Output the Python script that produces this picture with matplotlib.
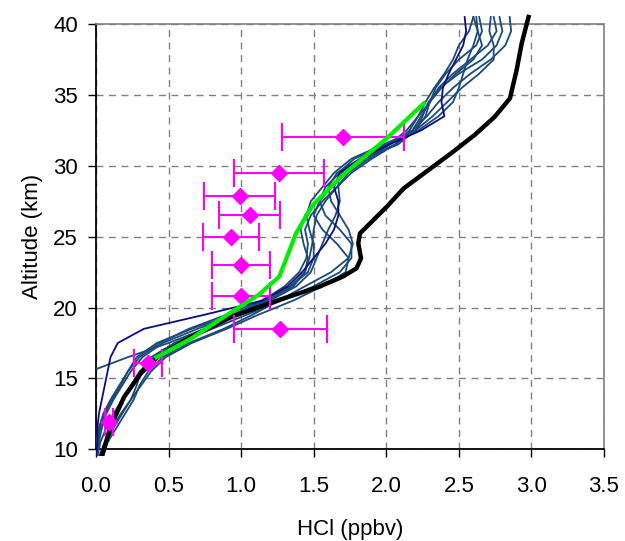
import numpy as np
import matplotlib
matplotlib.use("Agg")
import matplotlib.pyplot as plt
from matplotlib.transforms import Bbox, TransformedBbox

plt.rcParams['font.family'] = ['Liberation Sans', 'DejaVu Sans']

# altitude grid (km) shared by the individual profiles
alt = [9.5, 10.5, 11.5, 12.5, 13.5, 14.5, 15.5, 16.5, 17.5, 18.5, 19.5,
       20.5, 21.5, 22.5, 23.5, 24.5, 25.5, 26.5, 27.5, 28.5, 29.5, 30.5,
       31.5, 32.5, 33.5, 34.5, 35.5, 36.5, 37.5, 38.5, 39.5, 40.5]

nan = np.nan
# individual HCl profiles (ppbv)
prof_navy = [0.00, 0.01, 0.01, 0.02, 0.04, 0.06, 0.08, 0.10, 0.15, 0.33, 0.75,
             1.15, 1.32, 1.42, 1.50, 1.58, 1.64, 1.67, 1.67, 1.64, 1.68, 1.82,
             2.02, 2.24, 2.40, 2.38, 2.39, 2.43, 2.48, 2.53, 2.55, 2.54]
profiles = [
    [nan, nan, nan, nan, nan, nan, -0.04, 0.22, 0.50, 0.75, 0.95,
     1.15, 1.30, 1.40, 1.45, 1.46, 1.44, 1.48, 1.56, 1.66, 1.76, 1.90,
     2.06, 2.18, 2.24, 2.30, 2.36, 2.46, 2.58, 2.70, 2.76, 2.74],
    [0.04, 0.08, 0.14, 0.20, 0.26, 0.30, 0.36, 0.46, 0.64, 0.88, 1.08,
     1.26, 1.44, 1.62, 1.74, 1.77, 1.74, 1.68, 1.62, 1.60, 1.66, 1.82,
     2.02, 2.18, 2.28, 2.36, 2.46, 2.58, 2.72, 2.82, 2.86, 2.85],
    [-0.01, 0.00, 0.02, 0.05, 0.10, 0.16, 0.22, 0.30, 0.44, 0.64, 0.90,
     1.14, 1.34, 1.46, 1.50, 1.50, 1.47, 1.45, 1.48, 1.56, 1.64, 1.76,
     1.98, 2.20, 2.32, 2.42, 2.52, 2.64, 2.74, 2.74, 2.71, 2.72],
    [0.01, 0.03, 0.07, 0.12, 0.18, 0.24, 0.30, 0.40, 0.56, 0.80, 1.04,
     1.28, 1.50, 1.68, 1.76, 1.76, 1.68, 1.58, 1.54, 1.58, 1.68, 1.84,
     2.06, 2.20, 2.27, 2.30, 2.34, 2.41, 2.50, 2.62, 2.66, 2.64],
    [0.00, 0.02, 0.04, 0.07, 0.12, 0.18, 0.24, 0.32, 0.46, 0.70, 0.96,
     1.20, 1.38, 1.48, 1.52, 1.56, 1.60, 1.65, 1.68, 1.67, 1.67, 1.78,
     2.00, 2.22, 2.36, 2.46, 2.50, 2.53, 2.56, 2.60, 2.63, 2.62],
    [0.05, 0.08, 0.12, 0.18, 0.24, 0.28, 0.31, 0.38, 0.54, 0.76, 0.98,
     1.18, 1.34, 1.44, 1.46, 1.43, 1.41, 1.44, 1.52, 1.62, 1.72, 1.86,
     2.02, 2.14, 2.22, 2.30, 2.38, 2.48, 2.60, 2.66, 2.63, 2.60],
    [0.02, 0.06, 0.11, 0.17, 0.24, 0.31, 0.38, 0.48, 0.66, 0.90, 1.12,
     1.36, 1.56, 1.72, 1.74, 1.66, 1.56, 1.50, 1.54, 1.62, 1.70, 1.84,
     2.08, 2.20, 2.25, 2.29, 2.37, 2.50, 2.66, 2.76, 2.80, 2.78],
    [0.00, 0.01, 0.03, 0.06, 0.11, 0.17, 0.22, 0.28, 0.42, 0.66, 0.94,
     1.18, 1.36, 1.44, 1.47, 1.49, 1.50, 1.52, 1.58, 1.66, 1.74, 1.88,
     2.06, 2.16, 2.22, 2.27, 2.33, 2.40, 2.46, 2.50, 2.57, 2.60],
]

# reference profile (black)
ref_x = [0.043, 0.10, 0.194, 0.31, 0.426, 0.658, 0.937, 1.262, 1.54, 1.70,
         1.795, 1.826, 1.807, 1.819, 1.889, 2.004, 2.12, 2.26, 2.446, 2.608,
         2.747, 2.852, 2.898, 2.933, 2.98]
ref_alt = [9.6, 11.6, 13.7, 15.37, 16.54, 17.95, 19.36, 20.54, 21.48, 22.18,
           22.77, 23.48, 24.53, 25.24, 25.95, 27.12, 28.41, 29.47, 30.88,
           32.17, 33.46, 34.76, 36.76, 38.64, 40.5]

# mean profile (green)
mean_x = [0.403, 0.658, 0.937, 1.12, 1.262, 1.308, 1.378, 1.494, 1.70, 2.004, 2.27]
mean_alt = [16.42, 17.83, 19.71, 20.89, 22.18, 23.36, 25.24, 27.24, 29.35, 31.94, 34.52]

# in-situ measurements with errors
obs_x = [1.70, 1.26, 0.99, 1.06, 0.93, 1.00, 1.00, 1.27, 0.36, 0.09]
obs_alt = [32.0, 29.5, 27.9, 26.5, 25.0, 23.0, 20.8, 18.5, 16.1, 11.9]
obs_err = [0.42, 0.31, 0.245, 0.21, 0.19, 0.20, 0.20, 0.32, 0.095, 0.03]

fig = plt.figure(figsize=(6.25, 5.41), dpi=100)
ax = fig.add_axes([0.1536, 0.1695, 0.8128, 0.786])

clip = TransformedBbox(Bbox([[0, -0.015], [1, 1.025]]), ax.transAxes)

lines = []
for p in profiles:
    lines += ax.plot(p, alt, color='#1b4a78', lw=1.3, zorder=3)
lines += ax.plot(prof_navy, alt, color='#0c0c82', lw=1.3, zorder=3)
lines += ax.plot(ref_x, ref_alt, color='black', lw=3.2, zorder=4)
for ln in lines:
    ln.set_clip_path(None)
    ln.set_clip_box(clip)

ax.errorbar(obs_x, obs_alt, xerr=obs_err, fmt='D', color='#ff00ff',
            ms=8.5, elinewidth=1.5, capsize=10, capthick=1.5, zorder=5)
ax.plot(mean_x, mean_alt, color='#00ee00', lw=3, zorder=6, solid_capstyle='butt')

ax.set_xlim(0, 3.5)
ax.set_ylim(10, 40)
ax.set_xticks(np.arange(0, 3.51, 0.5))
ax.set_xticklabels([f'{v:.1f}' for v in np.arange(0, 3.51, 0.5)])
ax.set_yticks(range(10, 41, 5))
ax.grid(True, color='#808080', ls=(0, (5, 4)), lw=1)
ax.set_axisbelow(True)

for s in ['top', 'right']:
    ax.spines[s].set_color('#808080')
    ax.spines[s].set_linewidth(1.2)
for s in ['left', 'bottom']:
    ax.spines[s].set_linewidth(1.3)

ax.tick_params(direction='out', length=6, width=1, labelsize=16, pad=7)
ax.tick_params(axis='x', pad=13)
ax.set_xlabel('HCl (ppbv)', fontsize=16, labelpad=16)
ax.set_ylabel('Altitude (km)', fontsize=16, labelpad=7)

fig.savefig('out.png', dpi=100)
